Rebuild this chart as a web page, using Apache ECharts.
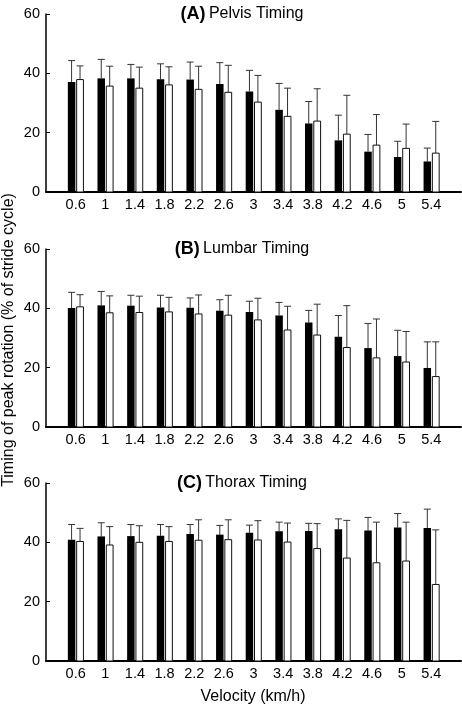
<!DOCTYPE html>
<html>
<head>
<meta charset="utf-8">
<script src="https://cdn.jsdelivr.net/npm/echarts@6/dist/echarts.min.js"></script>
<style>
html,body{margin:0;padding:0;background:#fff;}
#chart{width:462px;height:706px;}
</style>
</head>
<body>
<div id="chart"></div>
<script>
// Velocities (km/h), used as x positions and tick labels
const velocities = [0.6, 1.0, 1.4, 1.8, 2.2, 2.6, 3.0, 3.4, 3.8, 4.2, 4.6, 5.0, 5.4];
const yTicks = [0, 20, 40, 60];

// (A) Pelvis timing
const pelvisBlack   = [37.1, 38.3, 38.3, 38.0, 37.9, 36.4, 33.9, 27.7, 23.1, 17.4, 13.6, 11.8, 10.3];
const pelvisBlackSD = [7.2, 6.4, 4.7, 5.2, 5.9, 7.2, 7.1, 8.9, 7.4, 8.5, 5.8, 5.3, 4.5];
const pelvisWhite   = [37.9, 35.7, 35.0, 36.1, 34.6, 33.6, 30.3, 25.5, 23.9, 19.5, 15.8, 14.7, 13.1];
const pelvisWhiteSD = [4.6, 6.7, 7.1, 6.1, 7.8, 9.1, 9.0, 9.5, 10.9, 13.1, 10.3, 8.2, 10.7];

// (B) Lumbar timing
const lumbarBlack   = [40.1, 41.0, 40.9, 40.3, 40.2, 39.2, 38.8, 37.6, 35.2, 30.4, 26.6, 23.9, 19.9];
const lumbarBlackSD = [5.3, 4.7, 3.5, 4.1, 3.3, 3.7, 3.6, 4.4, 4.1, 7.2, 8.3, 8.7, 8.8];
const lumbarWhite   = [40.5, 38.5, 38.6, 38.8, 38.1, 37.7, 36.1, 32.7, 31.0, 26.8, 23.3, 21.9, 17.0];
const lumbarWhiteSD = [4.1, 5.7, 5.5, 4.9, 6.4, 6.7, 7.3, 8.0, 10.4, 14.1, 13.1, 10.3, 11.7];

// (C) Thorax timing
const thoraxBlack   = [40.9, 42.0, 42.1, 42.2, 42.8, 42.6, 43.2, 43.7, 43.8, 44.4, 44.0, 45.0, 44.8];
const thoraxBlackSD = [5.1, 4.6, 3.9, 3.8, 3.2, 3.1, 2.6, 3.1, 2.6, 3.5, 4.4, 4.7, 6.4];
const thoraxWhite   = [40.3, 39.1, 40.0, 40.3, 40.7, 40.9, 40.8, 40.1, 37.9, 34.7, 33.1, 33.7, 25.8];
const thoraxWhiteSD = [4.4, 6.2, 5.6, 5.0, 6.9, 6.7, 6.5, 6.4, 8.4, 12.7, 13.7, 13.1, 18.4];

const panelLetters = ['(A)', '(B)', '(C)'];
const panelNames = ['Pelvis Timing', 'Lumbar Timing', 'Thorax Timing'];
const yAxisTitle = 'Timing of peak rotation (% of stride cycle)';
const xAxisTitle = 'Velocity (km/h)';

const FONT = '"Liberation Sans", Arial, Helvetica, sans-serif';
const panels = [
  [pelvisBlack, pelvisBlackSD, pelvisWhite, pelvisWhiteSD],
  [lumbarBlack, lumbarBlackSD, lumbarWhite, lumbarWhiteSD],
  [thoraxBlack, thoraxBlackSD, thoraxWhite, thoraxWhiteSD]
];
const gridTops = [14, 249, 483];
const gridH = 178;

function renderItem(params, api) {
  const v = api.value(0);
  const bm = api.value(1), bs = api.value(2), wm = api.value(3), ws = api.value(4);
  const base = api.coord([v, 0]);
  const c = base[0], y0 = base[1];
  const yb = api.coord([v, bm])[1], ybe = api.coord([v, bm + bs])[1];
  const yw = api.coord([v, wm])[1], ywe = api.coord([v, wm + ws])[1];
  const bL = c - 7.8, bR = c - 0.3;
  const wL = c + 1.0, wR = c + 7.8;
  const bc = (bL + bR) / 2, wc = (wL + wR) / 2;
  const cap = 3.5;
  const errStyle = { stroke: '#333', lineWidth: 1, fill: null };
  return {
    type: 'group',
    children: [
      { type: 'line', shape: { x1: bc, y1: yb, x2: bc, y2: ybe }, style: errStyle },
      { type: 'line', shape: { x1: bc - cap, y1: ybe, x2: bc + cap, y2: ybe }, style: errStyle },
      { type: 'line', shape: { x1: wc, y1: yw, x2: wc, y2: ywe }, style: errStyle },
      { type: 'line', shape: { x1: wc - cap, y1: ywe, x2: wc + cap, y2: ywe }, style: errStyle },
      { type: 'rect', shape: { x: bL, y: yb, width: bR - bL, height: y0 - yb }, style: { fill: '#000' } },
      { type: 'rect', shape: { x: wL, y: yw, width: wR - wL, height: y0 - yw }, style: { fill: '#fff', stroke: '#111', lineWidth: 1 } }
    ]
  };
}

const grids = [], xAxes = [], yAxes = [], series = [], graphics = [];
panels.forEach((p, i) => {
  grids.push({ left: 46, right: 1, top: gridTops[i], height: gridH, containLabel: false, outerBoundsMode: 'none' });
  xAxes.push({
    type: 'value', gridIndex: i, min: 0.2, max: 5.8, interval: 0.4,
    axisLine: { show: true, onZero: false, lineStyle: { color: '#000', width: 2 } },
    axisTick: { show: false }, splitLine: { show: false },
    axisLabel: {
      margin: 5, fontSize: 14.5, color: '#000', fontFamily: FONT,
      showMinLabel: true, showMaxLabel: true,
      formatter: function (val) {
        const r = Math.round(val * 10) / 10;
        return velocities.some(x => Math.abs(x - r) < 1e-6) ? String(r) : '';
      }
    }
  });
  yAxes.push({
    type: 'value', gridIndex: i, min: yTicks[0], max: yTicks[yTicks.length - 1], interval: 20,
    axisLine: { show: true, lineStyle: { color: '#000', width: 1.5 } },
    axisTick: { show: true, inside: true, length: 4, lineStyle: { color: '#000', width: 1 } },
    splitLine: { show: false },
    axisLabel: { margin: 6, fontSize: 14.5, color: '#000', fontFamily: FONT }
  });
  series.push({
    type: 'custom', xAxisIndex: i, yAxisIndex: i, clip: false,
    renderItem: renderItem,
    encode: { x: 0, y: [1, 3] },
    data: velocities.map((v, k) => [v, p[0][k], p[1][k], p[2][k], p[3][k]])
  });
  graphics.push({
    type: 'text', x: 242, y: gridTops[i], z: 10,
    style: {
      text: '{b|' + panelLetters[i] + '} {n|' + panelNames[i] + '}',
      align: 'center', verticalAlign: 'middle',
      rich: {
        b: { fontSize: 18, fontWeight: 'bold', fontFamily: FONT, fill: '#000' },
        n: { fontSize: 16, fontFamily: FONT, fill: '#000' }
      }
    }
  });
});
graphics.push({
  type: 'text', x: 9, y: 340, rotation: Math.PI / 2,
  style: { text: yAxisTitle, align: 'center', verticalAlign: 'middle', fontSize: 16, fontFamily: FONT, fill: '#000' }
});
graphics.push({
  type: 'text', x: 253, y: 697,
  style: { text: xAxisTitle, align: 'center', verticalAlign: 'middle', fontSize: 16, fontFamily: FONT, fill: '#000' }
});

const chart = echarts.init(document.getElementById('chart'), null, { renderer: 'canvas' });
chart.setOption({
  animation: false,
  backgroundColor: '#fff',
  grid: grids, xAxis: xAxes, yAxis: yAxes, series: series, graphic: graphics
});
</script>
</body>
</html>
